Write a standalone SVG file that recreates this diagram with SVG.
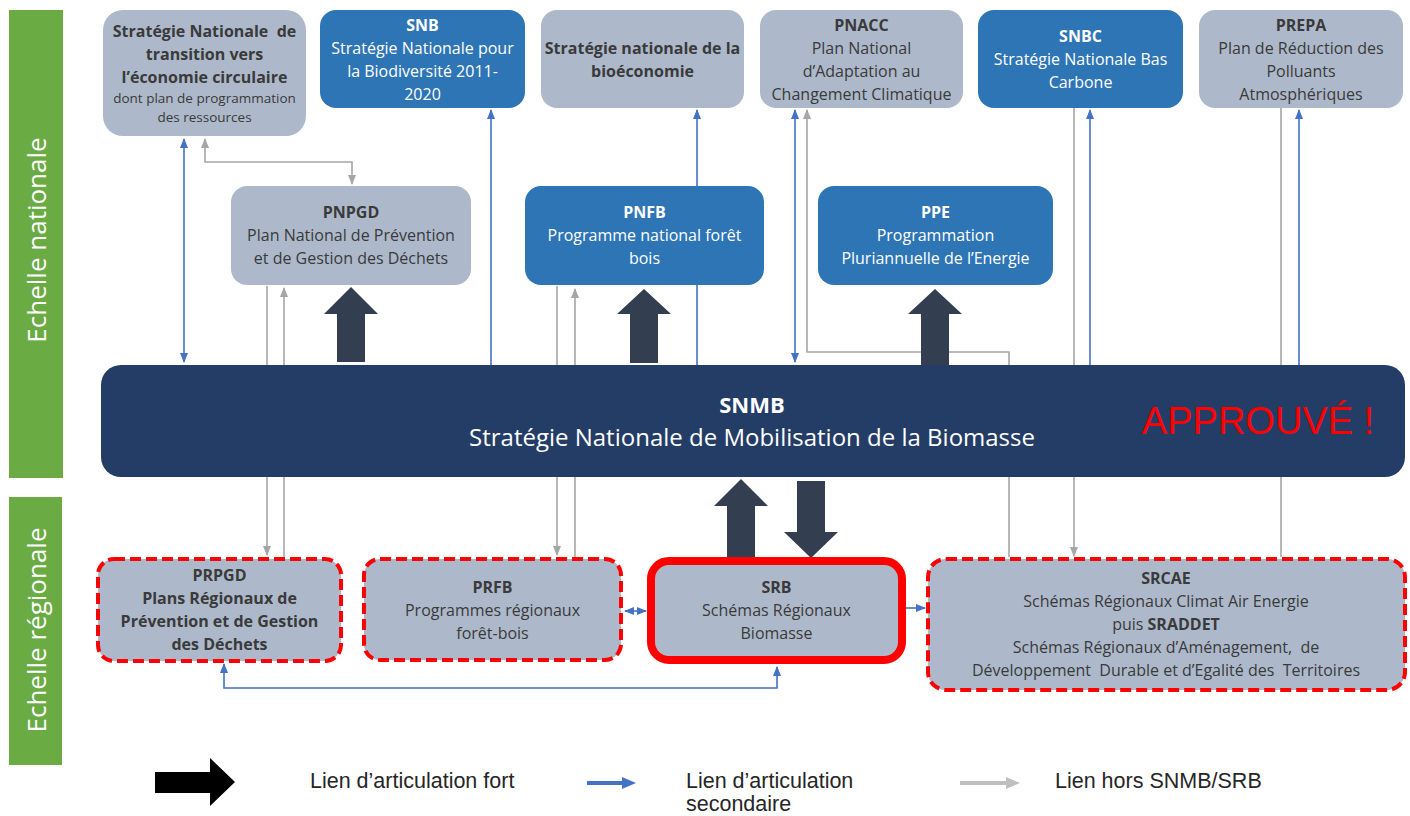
<svg xmlns="http://www.w3.org/2000/svg" width="1410" height="816" viewBox="0 0 1410 816">
<defs>
<style>
.t{font-family:"Open Sans",Lato,"Noto Sans",sans-serif;font-size:16px;text-anchor:middle;fill:#3a3a3a}
.w{fill:#ffffff}
.b{font-weight:bold}
.s{font-size:13.5px}
.gray{fill:#adb9ca}
.blue{fill:#2e75b6}
.bl{fill:none;stroke:#4472c4;stroke-width:1.6}
.gr{fill:none;stroke:#a6a6a6;stroke-width:1.6}
.fat{fill:#333f50}
.dash{stroke:#ff0000;stroke-width:4;stroke-dasharray:11 5}
.leg{font-family:"Liberation Sans",Arial,sans-serif;font-size:21.5px;fill:#262626}
.side{font-family:"Open Sans",Lato,sans-serif;font-size:26px;fill:#ffffff;text-anchor:middle}
</style>
<marker id="ab" markerUnits="userSpaceOnUse" markerWidth="10" markerHeight="10" viewBox="0 0 10 10" refX="9" refY="5" orient="auto-start-reverse"><path d="M0,1 L10,5 L0,9 Z" fill="#4472c4"/></marker>
<marker id="ag" markerUnits="userSpaceOnUse" markerWidth="10" markerHeight="10" viewBox="0 0 10 10" refX="9" refY="5" orient="auto-start-reverse"><path d="M0,1 L10,5 L0,9 Z" fill="#a6a6a6"/></marker>
</defs>
<rect width="1410" height="816" fill="#ffffff"/>

<g id="scale-nationale">
<rect x="9" y="10" width="54" height="468" fill="#6aab44"/>
<text class="side" transform="translate(46,240) rotate(-90)">Echelle nationale</text>
</g>
<g id="scale-regionale">
<rect x="9" y="497" width="53" height="268" fill="#6aab44"/>
<text class="side" transform="translate(46,630) rotate(-90)">Echelle régionale</text>
</g>

<g id="connectors">
<path class="bl" d="M184,362 V139" marker-start="url(#ab)" marker-end="url(#ab)"/>
<path class="bl" d="M491,365 V110" marker-end="url(#ab)"/>
<path class="bl" d="M697,365 V110" marker-end="url(#ab)"/>
<path class="bl" d="M795,110 V362" marker-start="url(#ab)" marker-end="url(#ab)"/>
<path class="bl" d="M1090,365 V110" marker-end="url(#ab)"/>
<path class="bl" d="M1299,365 V110" marker-end="url(#ab)"/>
<path class="bl" d="M625,611 H646" marker-start="url(#ab)" marker-end="url(#ab)"/>
<path class="bl" d="M906,608 H925" marker-end="url(#ab)"/>
<path class="bl" d="M224,664 V688 H777 V667" marker-start="url(#ab)" marker-end="url(#ab)"/>
<path class="gr" d="M205,139 V162 H352 V184" marker-start="url(#ag)" marker-end="url(#ag)"/>
<path class="gr" d="M267,286 V555" marker-end="url(#ag)"/>
<path class="gr" d="M284,557 V288" marker-end="url(#ag)"/>
<path class="gr" d="M557,286 V555" marker-end="url(#ag)"/>
<path class="gr" d="M575,557 V289" marker-end="url(#ag)"/>
<path class="gr" d="M1009,557 V352 H807 V110" marker-end="url(#ag)"/>
<path class="gr" d="M1074,108 V556" marker-end="url(#ag)"/>
<path class="gr" d="M1281,108 V557"/>
<polygon class="fat" points="351,287 378,314 365,314 365,362 337,362 337,314 324,314"/>
<polygon class="fat" points="644,289 671,314 658,314 658,363 630,363 630,314 617,314"/>
<polygon class="fat" points="935,289 962,314 949,314 949,365 921,365 921,314 908,314"/>
<polygon class="fat" points="741,479 768,506 755,506 755,557 727,557 727,506 714,506"/>
<polygon class="fat" points="811,558 838,532 825,532 825,481 797,481 797,532 784,532"/>
</g>

<g id="n-sn-eco-circ">
<rect class="gray" x="103" y="10" width="203" height="126" rx="20"/>
<text class="t b" x="204.5" y="37">Stratégie Nationale&#160; de</text>
<text class="t b" x="204.5" y="60">transition vers</text>
<text class="t b" x="204.5" y="83">l’économie circulaire</text>
<text class="t s" x="204.5" y="103">dont plan de programmation</text>
<text class="t s" x="204.5" y="122">des ressources</text>
</g>
<g id="n-snb">
<rect class="blue" x="320" y="10" width="205" height="98" rx="16"/>
<text class="t w b" x="422.5" y="31">SNB</text>
<text class="t w" x="422.5" y="54">Stratégie Nationale pour</text>
<text class="t w" x="422.5" y="77">la Biodiversité 2011-</text>
<text class="t w" x="422.5" y="100">2020</text>
</g>
<g id="n-bioeco">
<rect class="gray" x="541" y="10" width="203" height="98" rx="16"/>
<text class="t b" x="642.5" y="54">Stratégie nationale de la</text>
<text class="t b" x="642.5" y="77">bioéconomie</text>
</g>
<g id="n-pnacc">
<rect class="gray" x="760" y="10" width="203" height="98" rx="16"/>
<text class="t b" x="861.5" y="31">PNACC</text>
<text class="t" x="861.5" y="54">Plan National</text>
<text class="t" x="861.5" y="77">d’Adaptation au</text>
<text class="t" x="861.5" y="100">Changement Climatique</text>
</g>
<g id="n-snbc">
<rect class="blue" x="978" y="10" width="205" height="98" rx="16"/>
<text class="t w b" x="1080.5" y="42">SNBC</text>
<text class="t w" x="1080.5" y="65">Stratégie Nationale Bas</text>
<text class="t w" x="1080.5" y="88">Carbone</text>
</g>
<g id="n-prepa">
<rect class="gray" x="1199" y="10" width="204" height="98" rx="16"/>
<text class="t b" x="1301" y="31">PREPA</text>
<text class="t" x="1301" y="54">Plan de Réduction des</text>
<text class="t" x="1301" y="77">Polluants</text>
<text class="t" x="1301" y="100">Atmosphériques</text>
</g>

<g id="n-pnpgd">
<rect class="gray" x="231" y="186" width="240" height="99" rx="16"/>
<text class="t b" x="351" y="218">PNPGD</text>
<text class="t" x="351" y="241">Plan National de Prévention</text>
<text class="t" x="351" y="264">et de Gestion des Déchets</text>
</g>
<g id="n-pnfb">
<rect class="blue" x="525" y="186" width="239" height="99" rx="16"/>
<text class="t w b" x="644.5" y="218">PNFB</text>
<text class="t w" x="644.5" y="241">Programme national forêt</text>
<text class="t w" x="644.5" y="264">bois</text>
</g>
<g id="n-ppe">
<rect class="blue" x="818" y="186" width="235" height="99" rx="16"/>
<text class="t w b" x="935.5" y="218">PPE</text>
<text class="t w" x="935.5" y="241">Programmation</text>
<text class="t w" x="935.5" y="264">Pluriannuelle de l’Energie</text>
</g>

<g id="n-snmb">
<rect x="101" y="365" width="1304" height="112" rx="20" fill="#243d66"/>
<text class="t w b" style="font-size:22px" x="752" y="413">SNMB</text>
<text class="t w" style="font-size:24px" x="752" y="446">Stratégie Nationale de Mobilisation de la Biomasse</text>
<text x="1258" y="434" font-family="'Liberation Sans',Arial,sans-serif" font-size="38" fill="#ff0000" text-anchor="middle">APPROUVÉ !</text>
</g>

<g id="n-prpgd">
<rect class="gray dash" x="98" y="559" width="243" height="102" rx="16"/>
<text class="t b" x="219.5" y="581">PRPGD</text>
<text class="t b" x="219.5" y="604">Plans Régionaux de</text>
<text class="t b" x="219.5" y="627">Prévention et de Gestion</text>
<text class="t b" x="219.5" y="650">des Déchets</text>
</g>
<g id="n-prfb">
<rect class="gray dash" x="364" y="559" width="257" height="101" rx="16"/>
<text class="t b" x="492.5" y="593">PRFB</text>
<text class="t" x="492.5" y="616">Programmes régionaux</text>
<text class="t" x="492.5" y="639">forêt-bois</text>
</g>
<g id="n-srb">
<rect class="gray" x="651" y="561" width="251" height="99" rx="18" stroke="#ff0000" stroke-width="8"/>
<text class="t b" x="776.5" y="593">SRB</text>
<text class="t" x="776.5" y="616">Schémas Régionaux</text>
<text class="t" x="776.5" y="639">Biomasse</text>
</g>
<g id="n-srcae">
<rect class="gray dash" x="928" y="559" width="477" height="131" rx="18"/>
<text class="t b" x="1166" y="584">SRCAE</text>
<text class="t" x="1166" y="607">Schémas Régionaux Climat Air Energie</text>
<text class="t" x="1166" y="630">puis <tspan class="b">SRADDET</tspan></text>
<text class="t" x="1166" y="653">Schémas Régionaux d’Aménagement,&#160; de</text>
<text class="t" x="1166" y="676">Développement&#160; Durable et d’Egalité des&#160; Territoires</text>
</g>

<g id="legend">
<polygon points="155,772 210,772 210,758 235,782 210,806 210,793 155,793" fill="#000000"/>
<text class="leg" x="310" y="788">Lien d’articulation fort</text>
<line x1="587" y1="783" x2="625" y2="783" stroke="#4472c4" stroke-width="4"/>
<polygon points="622,777 636,783 622,789" fill="#4472c4"/>
<text class="leg" x="686" y="788">Lien d’articulation</text>
<text class="leg" x="686" y="811">secondaire</text>
<line x1="960" y1="783" x2="1008" y2="783" stroke="#bfbfbf" stroke-width="4"/>
<polygon points="1006,777 1020,783 1006,789" fill="#bfbfbf"/>
<text class="leg" x="1055" y="788">Lien hors SNMB/SRB</text>
</g>
</svg>
